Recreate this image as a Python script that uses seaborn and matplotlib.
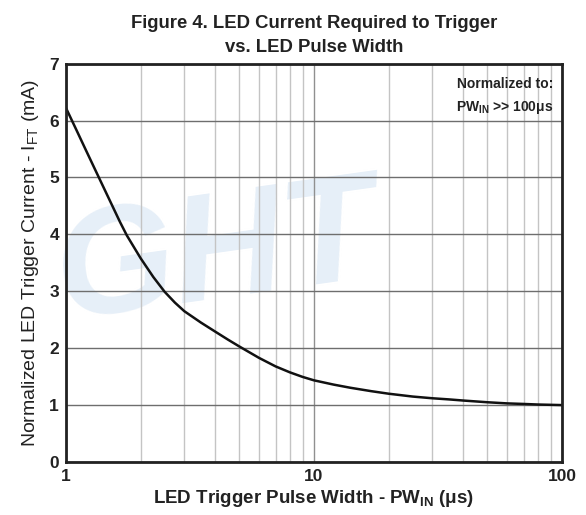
import numpy as np
import pandas as pd
import matplotlib
matplotlib.use('Agg')
import matplotlib.pyplot as plt
from matplotlib.ticker import FixedLocator, NullFormatter
import seaborn as sns

# Curve
pulse_width = [1, 1.1, 1.2, 1.3, 1.5, 1.65, 1.76, 2, 2.25, 2.5, 2.75, 3, 3.5,
               4, 4.5, 5, 6, 7, 8, 9, 10, 12, 14, 17, 20, 25, 30, 35, 40, 50,
               60, 70, 80, 100]
trigger_current = [6.22, 5.84, 5.49, 5.17, 4.6, 4.22, 3.98, 3.58, 3.25, 2.99,
                   2.8, 2.65, 2.45, 2.29, 2.15, 2.03, 1.83, 1.68, 1.575, 1.495,
                   1.435, 1.36, 1.305, 1.245, 1.2, 1.15, 1.12, 1.1, 1.08, 1.05,
                   1.03, 1.02, 1.01, 1.0]
y_ticks = [0, 1, 2, 3, 4, 5, 6, 7]
x_ticks = [1, 10, 100]
x_tick_labels = ['1', '10', '100']

df = pd.DataFrame({'pw': pulse_width, 'ift': trigger_current})

sns.set_style('white')
plt.rcParams['font.family'] = ['Liberation Sans', 'DejaVu Sans']
plt.rcParams['mathtext.fontset'] = 'custom'
plt.rcParams['mathtext.rm'] = 'Liberation Sans'
plt.rcParams['mathtext.it'] = 'Liberation Sans:italic'
plt.rcParams['mathtext.bf'] = 'Liberation Sans:bold'

fig = plt.figure(figsize=(5.86, 5.15), dpi=100)
ax = fig.add_axes([0.1126, 0.1029, 0.8464, 0.7736])

# faint watermark behind the grid
ax.text(0.37, 0.5, 'GHT', transform=fig.transFigure, fontsize=110,
        fontweight='bold', color='#e6eff8', ha='center', va='center',
        rotation=8, zorder=0, style='italic', clip_on=False)

sns.lineplot(data=df, x='pw', y='ift', ax=ax, color='#111111', linewidth=1.8,
             zorder=5)

ax.set_xscale('log')
ax.set_xlim(1, 100)
ax.set_ylim(0, 7)
ax.set_yticks(y_ticks)
ax.set_xticks(x_ticks)
ax.set_xticklabels(x_tick_labels)
minor = [m * d for d in (1, 10) for m in range(2, 10)]
ax.xaxis.set_minor_locator(FixedLocator(minor))
ax.xaxis.set_minor_formatter(NullFormatter())

ax.set_axisbelow(False)
ax.grid(axis='y', which='major', color='#6e6e6e', linewidth=1.0, zorder=2)
ax.grid(axis='x', which='major', color='#909090', linewidth=1.0, zorder=2)
ax.grid(axis='x', which='minor', color='#c4c4c4', linewidth=1.0, zorder=2)
ax.tick_params(axis='both', which='both', length=0, labelsize=12.5, pad=5)
for lab in ax.get_xticklabels() + ax.get_yticklabels():
    lab.set_fontweight('bold')
    lab.set_color('#222222')

for s in ax.spines.values():
    s.set_visible(True)
    s.set_color('#222222')
    s.set_linewidth(2)
    s.set_zorder(6)

ax.set_xlabel('LED Trigger Pulse Width - PW$_{\\mathregular{IN}}$ (\u03bcs)',
              fontsize=13.5, fontweight='bold', color='#222222', labelpad=3)
ax.set_ylabel('Normalized LED Trigger Current - I$_{\\mathregular{FT}}$ (mA)',
              fontsize=14, color='#222222', labelpad=6)
ax.set_title('Figure 4. LED Current Required to Trigger\nvs. LED Pulse Width',
             fontsize=13.3, fontweight='bold', color='#222222', pad=8,
             linespacing=1.55)

ax.text(0.982, 0.949, 'Normalized to:', transform=ax.transAxes, ha='right',
        va='center', fontsize=10, fontweight='bold', color='#222222',
        zorder=7)
ax.text(0.982, 0.889, 'PW$_{\\mathregular{IN}}$ >> 100\u03bcs',
        transform=ax.transAxes, ha='right', va='center', fontsize=10,
        fontweight='bold', color='#222222', zorder=7)

fig.savefig('out.png', dpi=100)
